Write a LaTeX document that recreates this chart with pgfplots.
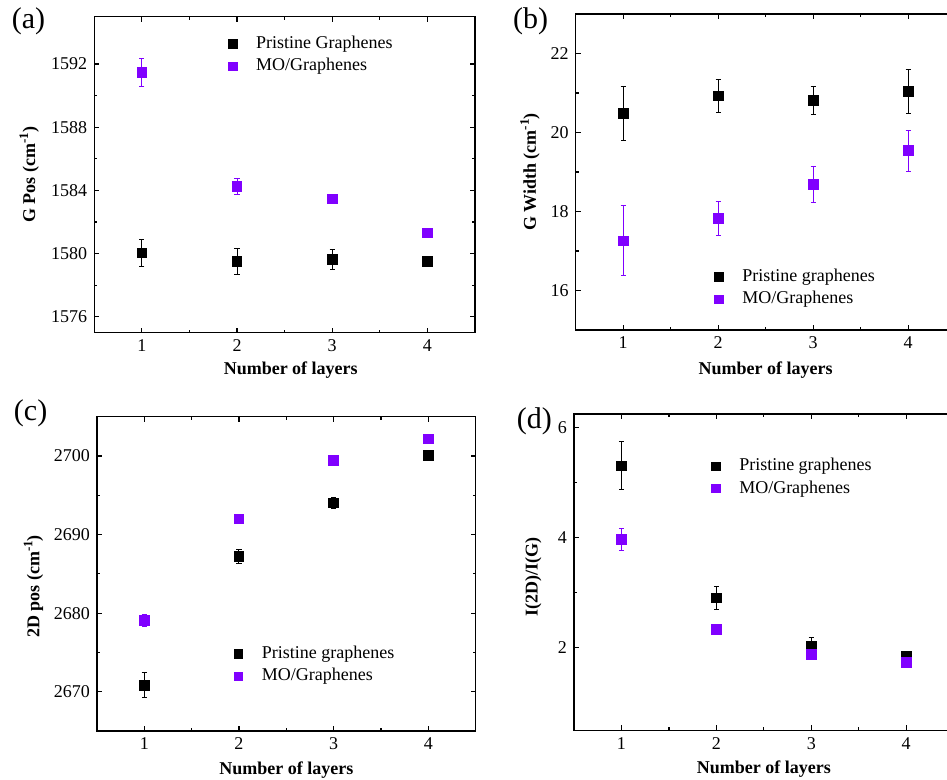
\documentclass[border=0pt]{standalone}
\usepackage{pgfplots}
\pgfplotsset{compat=1.18}
\usepackage{fontspec}
\setmainfont{Liberation Serif}
\definecolor{mop}{RGB}{128,0,255}
\newcommand{\supi}[1]{\raisebox{0.85ex}{\fontsize{6.5}{7}\selectfont\bfseries #1}}
\pgfplotsset{
 panel/.style={
  scale only axis,
  anchor=south west,
  xmin=0.5, xmax=4.5,
  xtick={1,2,3,4},
  minor x tick num=1, minor y tick num=1,
  tick align=inside,
  major tick length=2.5pt, minor tick length=1.5pt,
  axis line style={line width=0.75pt},
  every tick/.style={black, line width=0.6pt},
  /pgf/number format/assume math mode=true,
  /pgf/number format/set thousands separator={},
  tick label style={font=\fontsize{9}{10}\selectfont},
  label style={font=\fontsize{9}{10}\selectfont\bfseries},
  xlabel={Number of layers},
  legend style={draw=none, fill=none, inner sep=0pt, anchor=west, row sep=0.7pt, column sep=6.5pt,
    font=\fontsize{9}{10}\selectfont, nodes={inner sep=1pt, text height=6.5pt, text depth=2pt}},
  legend cell align=left,
  legend image code/.code={\path (-4pt,0pt) (4pt,0pt); \draw[##1, mark size=2.1pt] plot coordinates {(0pt,0pt)};},
 },
 pris/.style={only marks, mark=square*, mark size=2.4pt, black, mark options={fill=black, draw=black},
   error bars/.cd, y dir=both, y explicit,
   error bar style={line width=0.5pt, black},
   error mark options={rotate=90, mark size=1.3pt, line width=0.5pt, black}},
 mo/.style={only marks, mark=square*, mark size=2.4pt, mop, mark options={fill=mop, draw=mop},
   error bars/.cd, y dir=both, y explicit,
   error bar style={line width=0.5pt, mop},
   error mark options={rotate=90, mark size=1.3pt, line width=0.5pt, mop}},
}
\begin{document}
\begin{tikzpicture}
\useasboundingbox (0,0) rectangle (473.5pt,390pt);
% (a)
\begin{axis}[panel, at={(47.15pt,223.65pt)}, width=190.35pt, height=158pt,
  ymin=1575, ymax=1595, ytick={1576,1580,1584,1588,1592},
  ylabel={G Pos (cm\supi{-1})},
  xlabel style={at={(axis description cs:0.516,-0.118)}, anchor=center},
  ylabel style={at={(axis description cs:-0.171,0.5)}, anchor=center},
  legend style={at={(axis cs:1.863,1592.56)}}]
\addplot[pris] coordinates {(1,1580.06) +- (0,0.85) (2,1579.51) +- (0,0.8) (3,1579.62) +- (0,0.65) (4,1579.53) +- (0,0.2)};
\addplot[mo] coordinates {(1,1591.47) +- (0,0.88) (2,1584.25) +- (0,0.5) (3,1583.47) +- (0,0.15) (4,1581.32) +- (0,0.1)};
\legend{Pristine Graphenes, MO/Graphenes}
\end{axis}
% (b)
\begin{axis}[panel, at={(287.85pt,225pt)}, width=190pt, height=158pt,
  ymin=15, ymax=23, ytick={16,18,20,22},
  ylabel={G Width (cm\supi{-1})},
  xlabel style={at={(axis description cs:0.5,-0.127)}, anchor=center},
  ylabel style={at={(axis description cs:-0.12,0.5)}, anchor=center},
  legend style={at={(axis cs:1.916,16.06)}}]
\addplot[pris] coordinates {(1,20.48) +- (0,0.68) (2,20.93) +- (0,0.42) (3,20.81) +- (0,0.35) (4,21.04) +- (0,0.55)};
\addplot[mo] coordinates {(1,17.26) +- (0,0.88) (2,17.83) +- (0,0.43) (3,18.69) +- (0,0.45) (4,19.54) +- (0,0.52)};
\legend{Pristine graphenes, MO/Graphenes}
\end{axis}
% (c)
\begin{axis}[panel, at={(48.5pt,24.5pt)}, width=189.3pt, height=157.15pt,
  ymin=2665, ymax=2705, ytick={2670,2680,2690,2700},
  ylabel={2D pos (cm\supi{-1})},
  xlabel style={at={(axis description cs:0.5,-0.124)}, anchor=center},
  ylabel style={at={(axis description cs:-0.168,0.46)}, anchor=center},
  legend style={at={(axis cs:1.902,2673.37)}}]
\addplot[pris] coordinates {(1,2670.8) +- (0,1.6) (2,2687.2) +- (0,0.9) (3,2694.03) +- (0,0.7) (4,2700.05) +- (0,0.3)};
\addplot[mo] coordinates {(1,2679.08) +- (0,0.8) (2,2692.0) +- (0,0.5) (3,2699.4) +- (0,0.4) (4,2702.16) +- (0,0.3)};
\legend{Pristine graphenes, MO/Graphenes}
\end{axis}
% (d)
\begin{axis}[panel, at={(287pt,24.85pt)}, width=189.8pt, height=158.15pt,
  ymin=0.5, ymax=6.25, ytick={2,4,6},
  ylabel={I(2D)/I(G)},
  xlabel style={at={(axis description cs:0.5,-0.123)}, anchor=center},
  ylabel style={at={(axis description cs:-0.107,0.486)}, anchor=center},
  legend style={at={(axis cs:1.902,5.098)}}]
\addplot[pris] coordinates {(1,5.31) +- (0,0.44) (2,2.91) +- (0,0.21) (3,2.03) +- (0,0.15) (4,1.85) +- (0,0.09)};
\addplot[mo] coordinates {(1,3.97) +- (0,0.2) (2,2.33) +- (0,0.07) (3,1.88) +- (0,0.05) (4,1.73) +- (0,0.05)};
\legend{Pristine graphenes, MO/Graphenes}
\end{axis}
\node[font=\fontsize{15}{17}\selectfont] at (14.25pt,379.2pt) {(a)};
\node[font=\fontsize{15}{17}\selectfont] at (265.3pt,379.2pt) {(b)};
\node[font=\fontsize{15}{17}\selectfont] at (15.3pt,183.3pt) {(c)};
\node[font=\fontsize{15}{17}\selectfont] at (267.2pt,179.2pt) {(d)};
\end{tikzpicture}
\end{document}
